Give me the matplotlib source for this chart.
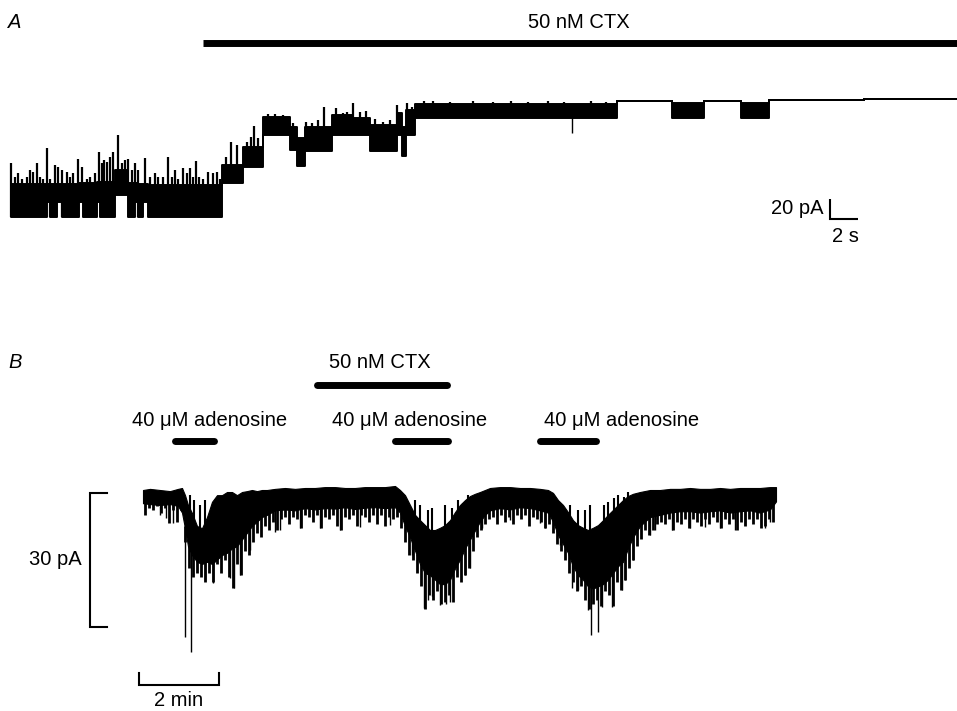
import numpy as np
import matplotlib
matplotlib.use("Agg")
import matplotlib.pyplot as plt

plt.rcParams['font.family'] = ['Liberation Sans', 'DejaVu Sans']

# ---------------- Panel A data: time (s), current (pA) ----------------
a_seg_start = [0.05, 2.62, 2.86, 3.33, 3.69, 4.93, 5.24, 6.19, 6.43, 7.50,
               8.45, 8.93, 9.17, 9.52, 9.88, 15.12, 16.67, 18.10, 20.0, 20.48,
               21.07, 23.0, 24.52, 25.71, 27.62, 27.98, 28.29, 28.93, 43.36, 47.29,
               49.57, 52.21, 54.21, 61.0]
a_seg_end = 67.7
a_upper = [31, 31, 31, 31, 31, 32, 32, 33, 33, 45,
           32, 32, 31, 31, 30, 50, 68, 98, 88, 77,
           88, 100, 97, 90, 102, 88, 105, 111, 114, 112,
           114, 112, 115, 116]
a_lower = [-2, 13.3, -2, 13.3, -2, 13.3, -2, 13.3, -2, 20,
           -2, 13.3, -2, 13.3, -2, 32, 48, 80, 65, 49,
           64, 80, 80, 64, 80, 59, 80, 97, 114, 97,
           114, 97, 115, 116]
a_spike_t = [0.07, 0.36, 0.60, 0.83, 1.19, 1.43, 1.67, 1.90, 2.14, 2.38,
             2.62, 2.86, 3.21, 3.45, 3.69, 4.05, 4.29, 4.52, 4.88, 5.12,
             5.48, 5.71, 6.07, 6.36, 6.55, 6.71, 6.90, 7.14, 7.38, 7.69,
             7.98, 8.21, 8.40, 8.69, 8.93, 9.17, 9.64, 10.0, 10.36, 10.6,
             10.95, 11.31, 11.55, 11.79, 12.02, 12.33, 12.62, 12.86, 13.1, 13.29,
             13.52, 13.81, 14.17, 14.48, 14.76, 15.0,
             15.45, 15.79, 16.24, 16.9, 17.2, 17.43, 17.74, 18.4, 18.9, 19.5,
             20.2, 21.14, 21.6, 22.02, 22.43, 23.29, 23.81, 24.1,
             24.52, 25.0, 25.43, 26.07, 26.67, 27.14, 27.67, 28.38, 28.69,
             29.6, 30.2, 31.4, 33.1, 34.5, 35.8, 37.0, 38.4, 39.6, 41.5, 42.6]
a_spike_top = [51.7, 38.3, 41.7, 36, 38.3, 45, 43.3, 51.7, 38.3, 36,
               66.7, 36, 50, 48.3, 45, 43.3, 38.3, 41.7, 56, 48.3,
               36, 38.3, 41.7, 63.3, 51.7, 55, 53.3, 58.3, 63.3, 80,
               51.7, 55, 56, 45, 51.7, 45, 56.7, 38.3, 41.7, 38.3,
               38.3, 58.3, 38.3, 45, 36, 46.7, 41.7, 46.7, 38.3, 54,
               38.3, 36, 43.3, 41.7, 43.3, 36,
               58, 73.3, 70, 73.3, 78, 89.3, 76.7, 101, 101, 100,
               92, 93.3, 92, 95, 107.7, 106.7, 101.7, 103,
               111.7, 103.3, 104.3, 95.7, 93.3, 95, 110, 112.3, 108.3,
               114, 114, 113.5, 114, 113.5, 114, 113.5, 114, 113.5, 114, 113.5]
a_down_t = [40.14]
a_down_bottom = [82]
a_ctx = [13.79, 67.7]
a_scale_pA = 20
a_scale_s = 2

# ---------------- Panel B data: time (s), current (pA) ----------------
# dense core of the trace
b_t = [0, 10.5, 25.5, 40.5, 52.5, 58.5, 63, 67.5, 73.5, 81,
       88.5, 96, 103.5, 111, 118.5, 126, 133.5, 141, 148.5, 156,
       163.5, 171, 178.5, 186, 198, 213, 228, 243, 258, 273,
       288, 303, 318, 333, 348, 363, 378, 385.5, 393, 400.5,
       408, 415.5, 423, 430.5, 438, 445.5, 453, 460.5, 468, 475.5,
       483, 490.5, 498, 505.5, 513, 520.5, 535.5, 550.5, 565.5, 580.5,
       595.5, 607.5, 615, 622.5, 630, 637.5, 645, 652.5, 660, 667.5,
       675, 682.5, 690, 697.5, 705, 712.5, 720, 727.5, 735, 745.5,
       760.5, 775.5, 790.5, 805.5, 820.5, 835.5, 850.5, 865.5, 880.5, 895.5,
       910.5, 925.5, 940.5, 949.5]
b_upper = [-0.45, -0.2, -0.45, -0.7, -0.2, 0, -1.6, -3.8, -5.6, -8.5,
           -9.0, -6.5, -3.1, -1.6, -1.6, -0.9, -0.9, -1.6, -0.9, -0.7,
           -0.45, -0.7, -0.45, -0.45, -0.2, 0, -0.2, 0, 0, 0.2,
           0.2, 0, 0, 0.2, 0.2, 0.2, 0.45, -0.45, -1.6, -3.8,
           -6.0, -7.2, -8.3, -9.4, -9.4, -8.9, -8.3, -7.2, -5.4, -3.8,
           -2.7, -1.8, -1.3, -0.9, -0.45, 0, 0.2, 0.2, 0, 0,
           -0.2, -0.45, -1.1, -2.7, -3.8, -5.4, -7.2, -8.3, -8.9, -9.4,
           -8.9, -8.3, -7.2, -6.0, -4.9, -3.8, -2.7, -1.8, -1.3, -0.9,
           -0.45, -0.45, -0.2, -0.2, 0, -0.2, -0.2, 0, -0.2, 0,
           0, 0, 0.2, 0.2]
b_lower = [-3.4, -3.6, -3.8, -3.6, -4.0, -5.5, -9, -13, -15, -16.5,
           -17, -16.5, -17, -16, -15, -14.5, -13.5, -13, -11.5, -10,
           -8.5, -7.5, -6.5, -6, -5, -4.8, -5, -4.5, -4.8, -4.5,
           -4.6, -4.3, -4.7, -4.4, -4.3, -4.5, -4.3, -5.5, -8.5, -11,
           -14, -17, -19, -19.5, -20.5, -21.5, -21.5, -20.5, -18, -16,
           -13.5, -11.5, -9.5, -7.5, -6, -5, -4.5, -4.8, -4.3, -4.5,
           -5, -5.5, -7.5, -10.5, -12.5, -14.5, -17.5, -19.5, -20.5, -22,
           -22.5, -22, -21.5, -20.5, -19, -17.5, -16.5, -13.5, -11, -8.5,
           -6.5, -6, -5.5, -5.2, -5.2, -5.5, -5.2, -5, -5.5, -5.2,
           -5, -5.5, -4.8, -3]
# jagged downward excursions, one every 6 s
b_col_t = [3, 9, 15, 21, 27, 33, 39, 45, 51, 57, 63, 69, 75, 81, 87, 93, 99, 105, 111, 117,
           123, 129, 135, 141, 147, 153, 159, 165, 171, 177, 183, 189, 195, 201, 207, 213, 219,
           225, 231, 237, 243, 249, 255, 261, 267, 273, 279, 285, 291, 297, 303, 309, 315, 321,
           327, 333, 339, 345, 351, 357, 363, 369, 375, 381, 387, 393, 399, 405, 411, 417, 423,
           429, 435, 441, 447, 453, 459, 465, 471, 477, 483, 489, 495, 501, 507, 513, 519, 525,
           531, 537, 543, 549, 555, 561, 567, 573, 579, 585, 591, 597, 603, 609, 615, 621, 627,
           633, 639, 645, 651, 657, 663, 669, 675, 681, 687, 693, 699, 705, 711, 717, 723, 729,
           735, 741, 747, 753, 759, 765, 771, 777, 783, 789, 795, 801, 807, 813, 819, 825, 831,
           837, 843, 849, 855, 861, 867, 873, 879, 885, 891, 897, 903, 909, 915, 921, 927, 933,
           939, 945]
b_col_bottom = [-6, -4.5, -5, -4, -5.5, -4.5, -7.8, -5, -7.5, -5,
                -12, -18, -20, -19, -20, -21, -19, -21, -17, -19,
                -16, -20, -22.4, -17, -19.5, -14, -15, -12, -10, -11,
                -8.5, -9.5, -7.5, -9.5, -7, -6.5, -8, -6.5, -7, -9,
                -6, -6.5, -7.5, -6, -9, -6.5, -7, -6, -8.5, -9.5,
                -6.5, -7, -6, -8.5, -6, -6.5, -7.5, -6, -8, -6,
                -8.5, -6.5, -7, -6.5, -9, -12, -15, -16, -19, -22,
                -27, -24, -25, -23, -26, -25.5, -24, -25.5, -20, -21,
                -19.5, -18, -14, -11, -9.5, -8, -7, -6.5, -8, -6,
                -7.5, -6.5, -8, -6, -7, -6, -8.5, -6.5, -7, -7.5,
                -9, -8, -10, -12.5, -14, -16, -19, -21, -23, -22,
                -25, -27, -26, -25, -26.5, -23, -24, -26.5, -21, -22.8,
                -20.5, -18, -16, -13, -11.5, -9.5, -10.5, -9.5, -8, -7.5,
                -8, -7, -9.5, -7.5, -8, -7, -9, -7, -7.5, -8.5,
                -7, -8, -6.5, -7.5, -9, -7, -8, -7, -9.5, -7.5,
                -8.5, -7, -8, -7, -9, -8.5, -7, -7.5]
# isolated deep spikes
b_spike_t = [63, 72, 45, 25.5, 34.5, 93, 105, 130.5, 136.5, 145.5,
             160.5, 198, 205.5, 235.5, 265.5, 295.5, 325.5, 370.5, 403.5, 421.5,
             427.5, 433.5, 445.5, 454.5, 460.5, 483, 490.5, 508.5, 550.5, 595.5,
             603, 625.5, 643.5, 652.5, 667.5, 672, 682.5, 688.5, 703.5, 718.5,
             723, 735, 760.5, 768, 793.5, 820.5, 843, 865.5, 888, 903,
             933, 940.5]
b_spike_bottom = [-33.3, -36.7, -7.8, -6.0, -6.7, -20.6, -21.3, -20.1, -22.4, -19.5,
                  -13.9, -9.8, -9.4, -8.9, -8.9, -9.4, -8.7, -8.3, -15.0, -26.8,
                  -25.1, -24.2, -26.2, -25.9, -25.5, -19.5, -17.9, -8.9, -7.2, -7.8,
                  -8.9, -12.8, -22.4, -22.8, -27.3, -32.9, -32.2, -26.6, -26.6, -22.8,
                  -20.6, -16.1, -10.5, -9.4, -9.4, -8.9, -8.7, -8.9, -9.4, -8.3,
                  -8.9, -7.6]
# upward strokes inside the adenosine responses
b_up_t = [70.5, 76.5, 85.5, 93, 408, 415.5, 427.5, 433.5, 453, 463.5,
          472.5, 480, 487.5, 640.5, 652.5, 663, 670.5, 691.5, 697.5, 706.5,
          712.5, 721.5, 727.5]
b_up_top = [-1.6, -2.7, -3.8, -2.7, -2.7, -3.8, -4.9, -4.5, -3.8, -4.5,
            -2.7, -3.4, -1.6, -3.8, -4.9, -4.9, -3.8, -3.8, -3.1, -2.2,
            -1.6, -2.0, -0.9]
b_adenosine = [(48, 106.5), (378, 457.5), (595.5, 679.5)]
b_adenosine_label = "40 μM adenosine"
b_ctx = (261, 456)
b_scale_pA = 30
b_scale_s = 120

# ---------------- layout (pixel mapping) ----------------
W, H, DPI = 957, 711, 100
fig = plt.figure(figsize=(W / DPI, H / DPI), dpi=DPI)
fig.patch.set_facecolor('white')

# Panel A: 14 px per s, 1 px per pA, origin at pixel (10, 215), occupies top 270 px
axA = fig.add_axes([0, 1 - 270 / H, 1, 270 / H])
axA.set_xlim(-10 / 14, (W - 10) / 14)
axA.set_ylim(215 - 270, 215)
axA.axis('off')

# Panel B: 40 px per min (1.5 s per px), 4.47 px per pA, origin at (143, 488)
axB = fig.add_axes([0, 0, 1, (H - 270) / H])
axB.set_xlim(-143 * 1.5, (W - 143) * 1.5)
axB.set_ylim(-(H - 488) / 4.47, (488 - 270) / 4.47)
axB.axis('off')

FS = 14.5

# ---- Panel A trace ----
ta = np.append(a_seg_start, a_seg_end)
ua = np.append(a_upper, a_upper[-1])
la = np.append(a_lower, a_lower[-1])
axA.fill_between(ta, ua, la, step='post', color='black', linewidth=1.4)
seg_idx = np.clip(np.searchsorted(a_seg_start, a_spike_t, side='right') - 1, 0, len(a_seg_start) - 1)
axA.vlines(a_spike_t, np.array(a_lower)[seg_idx], a_spike_top, color='black', linewidth=1.6)
seg_idx = np.clip(np.searchsorted(a_seg_start, a_down_t, side='right') - 1, 0, len(a_seg_start) - 1)
axA.vlines(a_down_t, a_down_bottom, np.array(a_upper)[seg_idx], color='black', linewidth=1.0)

# CTX bar A
axA.plot(a_ctx, [172, 172], color='black', linewidth=5.0, solid_capstyle='butt')
axA.text(40.64, 192, "50 nM CTX", ha='center', va='center', fontsize=FS)
axA.text(-0.15, 192, "A", ha='left', va='center', fontsize=FS, fontstyle='italic')

# scale bar A
sx0, sy0 = 58.57, -4
axA.plot([sx0, sx0, sx0 + a_scale_s], [sy0 + a_scale_pA, sy0, sy0], color='black',
         linewidth=1.5, solid_capstyle='butt', solid_joinstyle='miter')
axA.text(sx0 - 0.45, sy0 + 11, "20 pA", ha='right', va='center', fontsize=FS)
axA.text(sx0 + a_scale_s / 2 + 0.1, sy0 - 17, "2 s", ha='center', va='center', fontsize=FS)

# ---- Panel B trace ----
axB.fill_between(b_t, b_upper, b_lower, color='black', linewidth=0.8)
col_base = np.interp(b_col_t, b_t, b_lower) + 0.5
axB.vlines(b_col_t, b_col_bottom, col_base, color='black', linewidth=2.0)
base = np.interp(b_spike_t, b_t, b_lower) + 0.5
axB.vlines(b_spike_t, b_spike_bottom, base, color='black', linewidth=1.0)
up_base = np.interp(b_up_t, b_t, b_upper) - 0.5
axB.vlines(b_up_t, up_base, b_up_top, color='black', linewidth=1.5)

# application bars B
for (t0, t1), xc in zip(b_adenosine, [100.5, 400.5, 718.5]):
    axB.plot([t0, t1], [10.5, 10.5], color='black', linewidth=5.0, solid_capstyle='round')
    axB.text(xc, 15.2, b_adenosine_label, ha='center', va='center', fontsize=FS)
axB.plot(b_ctx, [23.0, 23.0], color='black', linewidth=5.0, solid_capstyle='round')
axB.text(355.5, 28.0, "50 nM CTX", ha='center', va='center', fontsize=FS)
axB.text(-202.5, 28.0, "B", ha='left', va='center', fontsize=FS, fontstyle='italic')

# scale bars B
bx0, bx1 = -79.5, -54
by0 = -1.12
axB.plot([bx1, bx0, bx0, bx1], [by0, by0, by0 - b_scale_pA, by0 - b_scale_pA], color='black',
         linewidth=1.5, solid_joinstyle='miter')
axB.text(-91.5, -16.1, "30 pA", ha='right', va='center', fontsize=FS)
tx0, ty = -6, -44.1
axB.plot([tx0, tx0, tx0 + b_scale_s, tx0 + b_scale_s], [ty + 2.7, ty, ty, ty + 2.7], color='black',
         linewidth=1.5, solid_joinstyle='miter')
axB.text(tx0 + b_scale_s / 2, -47.6, "2 min", ha='center', va='center', fontsize=FS)

fig.savefig("out.png", dpi=DPI, facecolor='white')
